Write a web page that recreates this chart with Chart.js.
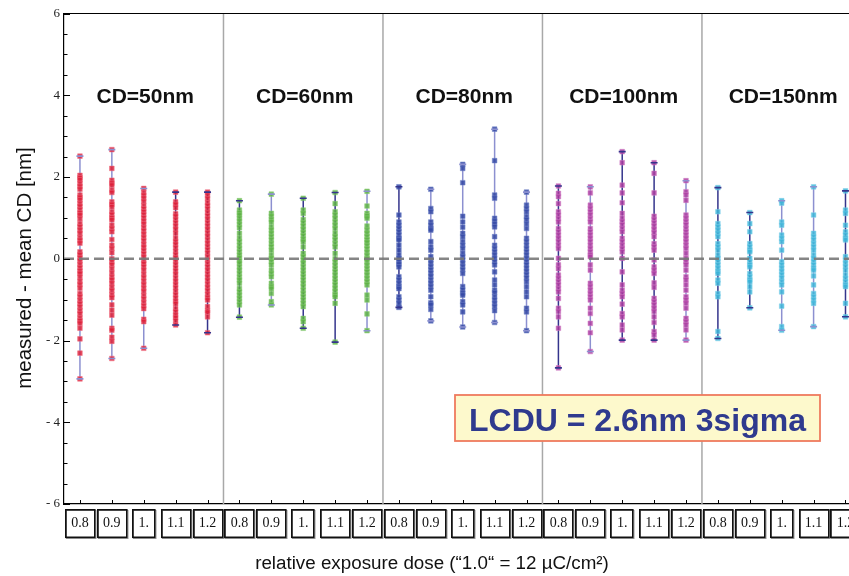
<!DOCTYPE html>
<html>
<head>
<meta charset="utf-8">
<script src="https://cdn.jsdelivr.net/npm/chart.js@4.4.1/dist/chart.umd.min.js"></script>
<style>
html,body{margin:0;padding:0;background:#fff;overflow:hidden}
canvas{display:block}
</style>
</head>
<body>
<canvas id="c" width="849" height="576"></canvas>
<script>
// ---------------- data ----------------
const doseLabels = ['0.8', '0.9', '1.', '1.1', '1.2'];
const groupLabels = ['CD=50nm', 'CD=60nm', 'CD=80nm', 'CD=100nm', 'CD=150nm'];
const yTickValues = [-6, -4, -2, 0, 2, 4, 6];
const yTitle = 'measured - mean CD [nm]';
const xTitle = 'relative exposure dose (\u201C1.0\u201C = 12 \u00B5C/cm\u00B2)';
const lcduText = 'LCDU = 2.6nm 3sigma';

// measured - mean CD [nm], one list per dose (0.8, 0.9, 1., 1.1, 1.2)
const cd50 = [
  [2.51, 2.04, 1.98, 1.93, 1.84, 1.77, 1.70, 1.56, 1.50, 1.44, 1.35, 1.28, 1.20, 1.12, 1.07, 0.98, 0.86, 0.78, 0.70, 0.62, 0.52, 0.45, 0.38, 0.17, 0.10, 0.02, -0.05, -0.14, -0.22, -0.30, -0.36, -0.45, -0.55, -0.63, -0.72, -0.85, -0.93, -1.02, -1.10, -1.18, -1.27, -1.35, -1.45, -1.52, -1.58, -1.70, -1.96, -2.31, -2.94],
  [2.67, 2.21, 1.92, 1.85, 1.80, 1.68, 1.62, 1.39, 1.33, 1.27, 1.15, 1.08, 1.00, 0.95, 0.82, 0.74, 0.66, 0.47, 0.33, 0.25, 0.15, 0.00, -0.08, -0.15, -0.25, -0.35, -0.45, -0.52, -0.60, -0.70, -0.78, -0.88, -0.95, -1.13, -1.26, -1.38, -1.70, -1.75, -1.92, -2.02, -2.44],
  [1.72, 1.62, 1.55, 1.48, 1.40, 1.30, 1.22, 1.15, 1.08, 1.00, 0.92, 0.85, 0.76, 0.68, 0.60, 0.52, 0.44, 0.35, 0.28, 0.20, 0.12, 0.04, -0.05, -0.12, -0.20, -0.28, -0.38, -0.46, -0.55, -0.63, -0.72, -0.80, -0.90, -0.98, -1.07, -1.15, -1.22, -1.48, -1.54, -2.19],
  [1.63, 1.39, 1.33, 1.25, 1.10, 1.04, 0.96, 0.88, 0.80, 0.72, 0.62, 0.50, 0.42, 0.35, 0.27, 0.18, 0.10, 0.02, -0.06, -0.14, -0.22, -0.30, -0.38, -0.47, -0.55, -0.63, -0.71, -0.80, -0.88, -0.96, -1.04, -1.10, -1.22, -1.30, -1.38, -1.44, -1.52, -1.62],
  [1.63, 1.55, 1.47, 1.37, 1.30, 1.22, 1.13, 1.05, 0.97, 0.88, 0.80, 0.72, 0.63, 0.55, 0.46, 0.38, 0.30, 0.22, 0.14, 0.05, -0.03, -0.12, -0.20, -0.28, -0.37, -0.45, -0.53, -0.62, -0.70, -0.78, -0.87, -0.95, -1.01, -1.17, -1.27, -1.31, -1.42, -1.81]
];
const cd60 = [
  [1.42, 1.19, 1.12, 1.07, 0.99, 0.92, 0.84, 0.76, 0.62, 0.50, 0.42, 0.33, 0.25, 0.17, 0.09, 0.02, -0.05, -0.11, -0.20, -0.28, -0.36, -0.45, -0.52, -0.60, -0.73, -0.81, -0.89, -0.97, -1.05, -1.13, -1.43],
  [1.58, 1.11, 1.04, 0.96, 0.90, 0.78, 0.70, 0.62, 0.54, 0.46, 0.37, 0.29, 0.21, 0.09, 0.01, -0.07, -0.15, -0.28, -0.36, -0.44, -0.60, -0.68, -0.73, -0.85, -1.05, -1.13],
  [1.48, 1.19, 1.11, 0.96, 0.88, 0.80, 0.72, 0.64, 0.56, 0.48, 0.42, 0.29, 0.13, 0.05, -0.03, -0.11, -0.20, -0.28, -0.36, -0.44, -0.52, -0.60, -0.68, -0.77, -0.85, -0.93, -1.01, -1.09, -1.17, -1.46, -1.54, -1.70],
  [1.62, 1.35, 1.15, 1.07, 0.99, 0.90, 0.82, 0.74, 0.62, 0.54, 0.46, 0.37, 0.29, 0.13, 0.00, -0.08, -0.16, -0.24, -0.32, -0.40, -0.48, -0.56, -0.64, -0.72, -0.80, -0.88, -0.93, -1.09, -2.04],
  [1.65, 1.29, 1.11, 1.05, 0.99, 0.80, 0.70, 0.62, 0.54, 0.46, 0.40, 0.32, 0.24, 0.16, 0.08, 0.00, -0.08, -0.16, -0.24, -0.32, -0.40, -0.48, -0.56, -0.64, -0.89, -1.01, -1.35, -1.76]
];
const cd80 = [
  [1.76, 1.07, 0.90, 0.82, 0.74, 0.66, 0.58, 0.50, 0.46, 0.33, 0.21, 0.09, 0.01, -0.07, -0.13, -0.20, -0.44, -0.52, -0.60, -0.68, -0.73, -0.93, -1.01, -1.09, -1.19],
  [1.70, 1.23, 1.15, 0.90, 0.82, 0.74, 0.70, 0.42, 0.29, 0.21, 0.05, -0.03, -0.11, -0.19, -0.27, -0.35, -0.43, -0.52, -0.60, -0.68, -0.77, -0.93, -1.08, -1.13, -1.24, -1.52],
  [2.31, 2.21, 1.86, 1.04, 0.90, 0.77, 0.62, 0.54, 0.42, 0.33, 0.25, 0.13, 0.05, -0.03, -0.11, -0.19, -0.27, -0.36, -0.68, -0.76, -0.84, -0.89, -1.05, -1.13, -1.30, -1.67],
  [3.17, 2.40, 1.56, 1.48, 0.99, 0.92, 0.85, 0.78, 0.54, 0.33, 0.25, 0.17, 0.09, 0.01, -0.07, -0.15, -0.32, -0.52, -0.64, -0.77, -0.83, -0.93, -1.01, -1.09, -1.17, -1.27, -1.56],
  [1.63, 1.31, 1.23, 1.15, 1.03, 0.95, 0.85, 0.74, 0.50, 0.42, 0.33, 0.25, 0.17, 0.09, 0.01, -0.07, -0.15, -0.23, -0.31, -0.39, -0.47, -0.56, -0.68, -0.81, -0.93, -1.21, -1.30, -1.76]
];
const cd100 = [
  [1.78, 1.60, 1.52, 1.35, 1.15, 1.07, 0.98, 0.90, 0.74, 0.66, 0.58, 0.50, 0.42, 0.33, 0.25, 0.01, -0.15, -0.24, -0.40, -0.48, -0.56, -0.64, -0.73, -0.81, -0.97, -1.21, -1.29, -1.42, -1.70, -2.67],
  [1.76, 1.61, 1.31, 1.23, 1.15, 1.07, 0.98, 0.90, 0.74, 0.66, 0.58, 0.50, 0.42, 0.33, 0.25, 0.17, 0.09, 0.05, -0.15, -0.28, -0.60, -0.68, -0.77, -0.85, -0.93, -1.01, -1.21, -1.34, -1.58, -1.81, -2.27],
  [2.62, 2.35, 1.80, 1.61, 1.37, 1.11, 0.99, 0.91, 0.83, 0.74, 0.66, 0.50, 0.42, 0.33, 0.25, 0.17, 0.01, -0.32, -0.64, -0.77, -0.85, -0.93, -1.11, -1.34, -1.42, -1.62, -1.74, -1.99],
  [2.35, 2.09, 1.61, 1.04, 0.96, 0.88, 0.80, 0.72, 0.64, 0.54, 0.37, 0.29, 0.21, -0.03, -0.20, -0.28, -0.36, -0.59, -0.70, -0.97, -1.05, -1.13, -1.21, -1.29, -1.42, -1.56, -1.78, -1.86, -1.99],
  [1.91, 1.64, 1.56, 1.43, 1.07, 0.99, 0.91, 0.83, 0.74, 0.66, 0.58, 0.50, 0.42, 0.33, 0.25, 0.13, 0.01, -0.07, -0.15, -0.28, -0.44, -0.52, -0.64, -0.77, -0.93, -1.01, -1.09, -1.21, -1.46, -1.54, -1.62, -1.74, -1.99]
];
const cd150 = [
  [1.74, 1.15, 0.86, 0.78, 0.70, 0.62, 0.54, 0.37, 0.29, 0.21, 0.09, 0.01, -0.07, -0.15, -0.23, -0.31, -0.36, -0.52, -0.60, -0.85, -0.93, -1.78, -1.95],
  [1.13, 0.86, 0.66, 0.37, 0.29, 0.21, 0.17, 0.01, -0.07, -0.15, -0.20, -0.36, -0.44, -0.52, -0.56, -0.68, -0.81, -1.20],
  [1.42, 1.36, 0.90, 0.82, 0.58, 0.50, 0.42, 0.21, -0.07, -0.15, -0.23, -0.31, -0.39, -0.47, -0.56, -0.64, -0.81, -1.16, -1.66, -1.75],
  [1.76, 1.07, 0.62, 0.54, 0.46, 0.37, 0.29, 0.21, 0.09, 0.01, -0.07, -0.15, -0.23, -0.28, -0.42, -0.64, -0.85, -0.93, -1.01, -1.09, -1.66],
  [1.66, 1.19, 1.11, 0.82, 0.66, 0.58, 0.50, 0.46, 0.05, -0.03, -0.11, -0.19, -0.28, -0.40, -0.48, -0.56, -0.64, -0.68, -1.09, -1.42]
];

// ---------------- styles ----------------
const groups = [cd50, cd60, cd80, cd100, cd150];
const groupFill = ['rgba(222,30,55,0.82)', 'rgba(92,178,66,0.82)', 'rgba(52,72,165,0.85)', 'rgba(172,58,160,0.82)', 'rgba(58,180,216,0.82)'];
const groupHalo = ['rgba(240,110,130,0.5)', 'rgba(140,205,120,0.5)', 'rgba(110,130,200,0.5)', 'rgba(212,130,200,0.5)', 'rgba(130,210,235,0.5)'];
const DARK = '#34348c', LIGHT = '#8c90d0';
const whiskerStyle = [
  LIGHT, LIGHT, LIGHT, DARK, DARK,
  DARK, LIGHT, DARK, DARK, LIGHT,
  DARK, LIGHT, LIGHT, LIGHT, LIGHT,
  DARK, LIGHT, DARK, DARK, LIGHT,
  DARK, DARK, LIGHT, LIGHT, DARK
];
const perGroup = doseLabels.length;

// ---------------- datasets ----------------
const datasets = [];
const capPts = [], capColors = [];
groups.forEach((g, gi) => {
  const pts = [];
  g.forEach((vals, di) => {
    const x = gi * perGroup + di;
    vals.forEach(v => pts.push({x: x, y: v}));
    const lo = Math.min(...vals), hi = Math.max(...vals);
    datasets.push({
      data: [{x: x, y: lo}, {x: x, y: hi}],
      showLine: true, borderColor: whiskerStyle[x], borderWidth: 1.5,
      pointRadius: 0, order: 2
    });
    capPts.push({x: x, y: lo}, {x: x, y: hi});
    capColors.push(whiskerStyle[x], whiskerStyle[x]);
  });
  datasets.push({
    data: pts, pointStyle: 'rect', pointRadius: 3.3,
    backgroundColor: groupFill[gi], borderColor: groupHalo[gi], borderWidth: 1, order: 1
  });
});
datasets.push({
  data: capPts, pointStyle: 'line', pointRadius: 3.5,
  pointBorderColor: capColors, pointBorderWidth: 1.6, order: 0
});

const SERIF = '"Liberation Serif", "Times New Roman", serif';
const SANS = '"Liberation Sans", Arial, sans-serif';

const decor = {
  id: 'decor',
  beforeDatasetsDraw(chart) {
    const {ctx, chartArea: a, scales: {x}} = chart;
    ctx.save();
    ctx.strokeStyle = '#a8a8a8';
    ctx.lineWidth = 1.5;
    for (let gi = 1; gi < groups.length; gi++) {
      const px = x.getPixelForValue(gi * perGroup - 0.5);
      ctx.beginPath(); ctx.moveTo(px, a.top); ctx.lineTo(px, a.bottom); ctx.stroke();
    }
    ctx.restore();
  },
  afterDatasetsDraw(chart) {
    const {ctx, chartArea: a, scales: {y}} = chart;
    ctx.save();
    ctx.strokeStyle = 'rgba(120,120,120,0.9)';
    ctx.lineWidth = 2.5;
    ctx.setLineDash([10, 5]);
    const py = y.getPixelForValue(0);
    ctx.beginPath(); ctx.moveTo(a.left, py); ctx.lineTo(a.right, py); ctx.stroke();
    ctx.restore();
  },
  afterDraw(chart) {
    const {ctx, chartArea: a, scales: {x, y}} = chart;
    ctx.save();
    // frame top
    ctx.strokeStyle = '#000'; ctx.lineWidth = 1.2;
    ctx.beginPath(); ctx.moveTo(a.left, a.top); ctx.lineTo(a.right, a.top); ctx.stroke();
    // inward y ticks
    ctx.lineWidth = 1;
    for (let v = -6; v <= 6.001; v += 0.5) {
      const py = Math.round(y.getPixelForValue(v)) + 0.5;
      const len = (Math.abs(v % 2) < 1e-6) ? 6 : 3.5;
      ctx.beginPath(); ctx.moveTo(a.left, py); ctx.lineTo(a.left + len, py); ctx.stroke();
    }
    // inward x ticks + label boxes
    ctx.font = '14px ' + SERIF;
    const nCat = groups.length * perGroup;
    for (let i = 0; i < nCat; i++) {
      const px = Math.round(x.getPixelForValue(i)) + 0.5;
      ctx.strokeStyle = '#000'; ctx.lineWidth = 1;
      ctx.beginPath(); ctx.moveTo(px, a.bottom); ctx.lineTo(px, a.bottom - 4); ctx.stroke();
      const w = ctx.measureText(doseLabels[i % perGroup]).width + 12;
      const bx = Math.round(px - 1 - w / 2);
      ctx.strokeStyle = '#9a9a9a'; ctx.lineWidth = 1;
      ctx.strokeRect(bx + 1.5, 510.5, w, 28);
      ctx.strokeStyle = '#111'; ctx.lineWidth = 1.6;
      ctx.strokeRect(bx + 0.8, 509.8, w - 0.5, 27.5);
    }
    // group labels
    ctx.fillStyle = '#111';
    ctx.font = 'bold 21px ' + SANS;
    ctx.textAlign = 'center'; ctx.textBaseline = 'alphabetic';
    groupLabels.forEach((t, gi) => {
      ctx.fillText(t, x.getPixelForValue(gi * perGroup + 2) + 1.5, 102.5);
    });
    // LCDU box
    ctx.fillStyle = '#fdf9cc';
    ctx.fillRect(455, 395, 365, 46);
    ctx.strokeStyle = '#ef7a5e'; ctx.lineWidth = 1.8;
    ctx.strokeRect(455, 395, 365, 46);
    ctx.fillStyle = '#2f3a8e';
    ctx.font = 'bold 32px ' + SANS;
    ctx.fillText(lcduText, 637.5, 431);
    // axis titles
    ctx.fillStyle = '#111';
    ctx.font = '18.8px ' + SANS;
    ctx.fillText(xTitle, 432, 569);
    ctx.save();
    ctx.translate(31, 268);
    ctx.rotate(-Math.PI / 2);
    ctx.font = '20.5px ' + SANS;
    ctx.fillText(yTitle, 0, 0);
    ctx.restore();
    ctx.restore();
  }
};

new Chart(document.getElementById('c'), {
  type: 'scatter',
  data: {datasets: datasets},
  options: {
    responsive: false,
    devicePixelRatio: 1,
    animation: false,
    events: [],
    layout: {autoPadding: false, padding: {top: 13.5, left: 0, right: 0, bottom: 0}},
    plugins: {legend: {display: false}, tooltip: {enabled: false}},
    scales: {
      x: {
        type: 'linear', min: -0.5, max: 24.11,
        grid: {display: false, drawTicks: false},
        border: {display: true, color: '#000', width: 1.2},
        afterBuildTicks: s => { s.ticks = Array.from({length: groups.length * perGroup}, (_, i) => ({value: i})); },
        ticks: {
          autoSkip: false, maxRotation: 0, padding: 11, color: '#111',
          font: {family: SERIF, size: 14},
          callback: v => doseLabels[((v % perGroup) + perGroup) % perGroup]
        },
        afterFit: s => { s.height = 72; s.paddingLeft = 0; s.paddingRight = 0; }
      },
      y: {
        type: 'linear', min: -6, max: 6,
        grid: {display: false, drawTicks: false},
        border: {display: true, color: '#000', width: 1.2},
        afterBuildTicks: s => { s.ticks = yTickValues.map(v => ({value: v})); },
        ticks: {
          padding: 4, color: '#222',
          font: {family: SERIF, size: 13},
          callback: v => v < 0 ? '- ' + Math.abs(v) : String(v)
        },
        afterFit: s => { s.width = 64; s.paddingTop = 0; s.paddingBottom = 0; }
      }
    }
  },
  plugins: [decor]
});
</script>
</body>
</html>
